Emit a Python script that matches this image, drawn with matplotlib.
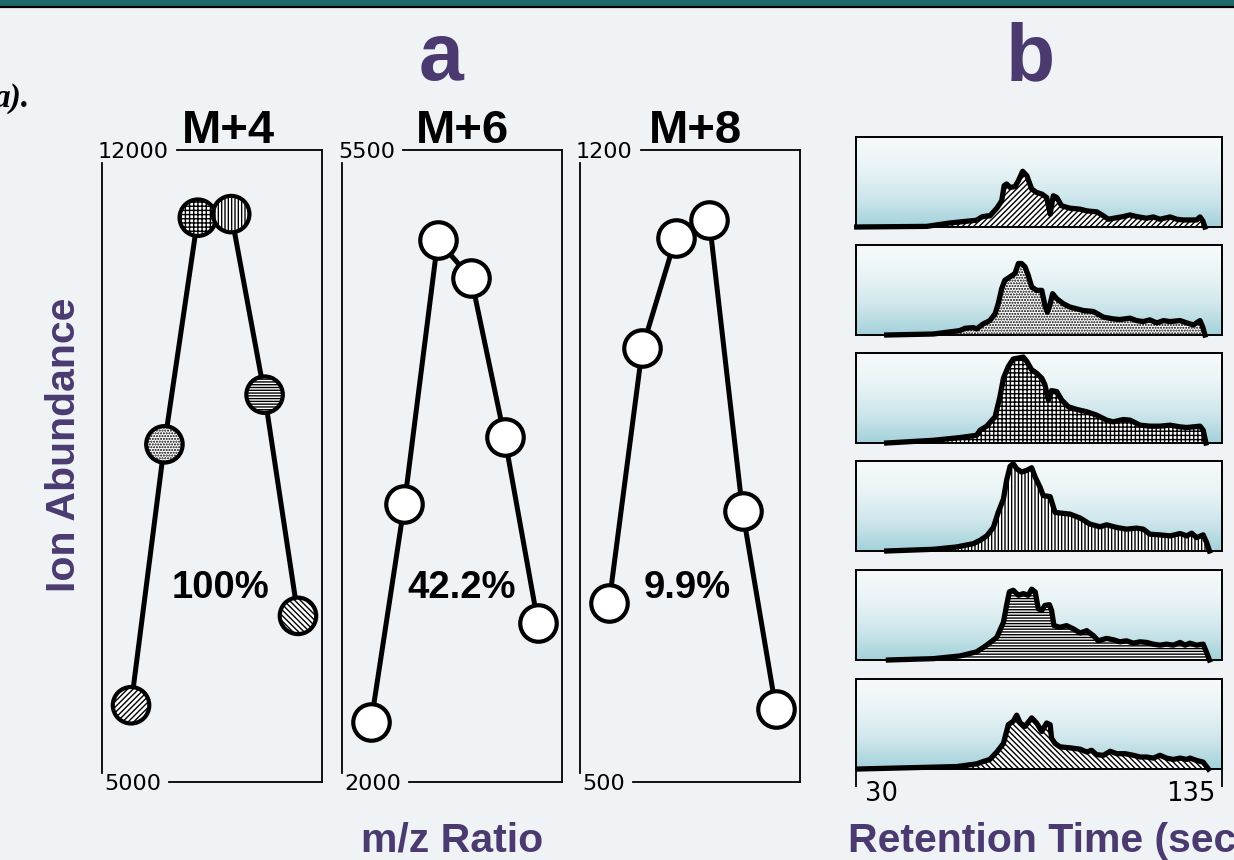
import numpy as np
import matplotlib
matplotlib.use("Agg")
import matplotlib.pyplot as plt
from matplotlib.colors import LinearSegmentedColormap
from matplotlib.lines import Line2D
from matplotlib.patches import Rectangle

# ---------------------------------------------------------------- data
ISOTOPE_LABELS = ["M+4", "M+6", "M+8"]
RELATIVE_LABELS = ["100%", "42.2%", "9.9%"]
MZ_STEP = [0, 1, 2, 3, 4, 5]
M4_ABUNDANCE = [5850, 8740, 11250, 11290, 9290, 6840]
M6_ABUNDANCE = [2330, 3540, 5000, 4790, 3910, 2880]
M8_ABUNDANCE = [698, 981, 1103, 1123, 800, 581]
ABUNDANCE_LIMITS = [(5000, 12000), (2000, 5500), (500, 1200)]

RT_TICKS = [30, 135]

RT_1 = [30.2, 50.3, 57.0, 64.6, 66.1, 67.5, 68.4, 70.4, 71.8, 72.5, 73.2, 74.2, 75.6, 76.6,
        77.8, 79.0, 80.4, 81.8, 83.3, 84.7, 85.7, 86.6, 87.6, 89.0, 91.4, 94.3, 96.2, 99.1,
        101.0, 102.4, 103.9, 106.7, 108.6, 110.5, 113.4, 115.3, 117.2, 120.1, 122.0, 123.9,
        127.7, 128.7, 129.5, 130.1]
AB_1 = [0.0, 0.7, 4.5, 7.5, 11.2, 12.3, 12.3, 20.9, 29.1, 45.9, 47.8, 44.0, 44.8, 51.5,
        61.9, 57.1, 42.2, 38.4, 36.6, 32.8, 14.2, 34.7, 32.8, 23.5, 20.9, 19.8, 17.9, 16.8,
        12.3, 8.6, 9.7, 11.6, 13.4, 11.6, 9.7, 11.2, 8.6, 11.2, 8.6, 7.8,
        7.8, 11.2, 6.7, 0.0]

RT_2 = [38.8, 52.2, 59.8, 61.3, 63.7, 64.6, 66.5, 68.4, 69.9, 70.8, 71.8, 72.7, 74.2, 75.6,
        76.6, 77.5, 78.5, 79.4, 80.4, 81.8, 83.3, 84.2, 84.9, 85.7, 86.4, 87.6, 89.5, 91.4,
        93.3, 95.2, 98.1, 101.0, 103.8, 105.7, 108.6, 110.5, 112.4, 114.3, 116.3, 118.2,
        120.1, 123.0, 124.9, 126.8, 128.7, 129.5, 130.1]
AB_2 = [0.0, 1.1, 4.9, 7.5, 8.2, 6.7, 12.3, 16.0, 23.5, 34.7, 51.5, 60.8, 64.6, 68.3,
        79.5, 79.5, 75.7, 66.4, 53.4, 49.6, 49.6, 32.8, 25.4, 34.7, 45.9, 40.3, 34.7, 31.0,
        29.1, 27.2, 26.1, 19.8, 17.9, 17.2, 18.7, 16.0, 14.9, 16.8, 13.4, 16.0,
        14.9, 16.0, 13.4, 11.2, 16.0, 8.6, 0.0]

RT_3 = [38.8, 52.2, 59.8, 64.6, 65.6, 67.5, 69.9, 71.3, 72.3, 73.7, 75.1, 76.6, 78.0, 79.0,
        80.4, 81.8, 83.3, 84.2, 85.2, 86.1, 87.6, 89.0, 90.9, 93.3, 96.2, 99.0, 101.9, 103.8,
        106.7, 108.6, 111.5, 114.3, 117.2, 120.1, 123.0, 124.9, 128.7, 129.6, 130.4]
AB_3 = [0.0, 3.0, 6.0, 8.6, 14.2, 18.7, 29.1, 51.5, 72.0, 85.1, 93.3, 94.4, 95.5, 90.7,
        81.3, 77.6, 72.0, 64.6, 47.8, 58.2, 57.1, 47.8, 40.3, 37.3, 34.7, 31.0, 25.4, 23.5,
        26.1, 25.4, 19.8, 18.7, 18.7, 19.8, 17.9, 17.2, 18.7, 14.2, 0.0]

RT_4 = [38.8, 52.2, 58.9, 63.7, 65.6, 67.5, 69.4, 70.8, 72.3, 73.2, 74.2, 75.1, 76.1, 77.5,
        79.0, 80.4, 81.4, 82.8, 83.7, 85.7, 87.1, 89.5, 91.4, 94.3, 97.1, 100.0, 101.9, 104.8,
        107.6, 110.5, 112.4, 114.3, 117.2, 120.1, 123.0, 124.9, 126.3, 127.7, 129.6, 130.6,
        131.4]
AB_4 = [0.0, 1.9, 4.5, 8.2, 11.9, 16.8, 26.1, 42.9, 57.8, 78.4, 94.0, 97.0, 91.4, 87.7,
        89.6, 92.5, 82.1, 70.9, 61.6, 60.4, 42.9, 41.8, 41.0, 36.6, 29.9, 26.9, 29.1, 26.1,
        24.3, 25.4, 24.3, 18.7, 17.9, 16.8, 19.4, 16.8, 19.8, 14.9, 17.9, 9.3,
        0.0]

RT_5 = [39.3, 52.2, 59.8, 64.6, 67.5, 70.4, 72.3, 73.2, 74.0, 75.1, 76.6, 78.0, 79.4, 80.4,
        81.4, 82.3, 83.3, 84.2, 85.5, 86.1, 86.8, 88.5, 90.4, 92.4, 94.3, 96.2, 98.1, 99.5,
        101.9, 103.8, 105.7, 107.6, 109.6, 111.5, 113.4, 115.3, 117.2, 119.1, 121.0, 123.0,
        124.4, 125.8, 127.7, 129.6, 130.6, 131.4]
AB_5 = [0.0, 1.5, 4.5, 9.0, 16.5, 25.1, 41.9, 60.7, 75.7, 77.5, 71.9, 73.8, 71.9, 78.7,
        75.7, 56.9, 55.1, 60.7, 61.4, 55.1, 38.2, 36.3, 38.2, 34.5, 30.0, 32.6, 27.0, 21.3,
        24.0, 22.5, 20.2, 21.3, 18.7, 20.2, 19.5, 17.6, 16.5, 17.6, 16.5, 19.5,
        16.5, 18.7, 16.5, 17.6, 8.2, 0.0]

RT_6 = [30.7, 58.9, 64.6, 66.5, 68.4, 70.4, 72.3, 73.7, 75.1, 76.1, 77.1, 78.5, 80.4, 81.8,
        83.3, 84.7, 85.7, 86.1, 87.1, 88.5, 91.4, 94.3, 96.2, 97.6, 99.0, 101.0, 102.9, 104.8,
        107.2, 109.6, 111.5, 113.4, 115.3, 117.2, 119.1, 121.0, 123.0, 124.9, 125.8, 127.7,
        129.6, 131.1]
AB_6 = [0.0, 2.7, 5.7, 8.3, 10.6, 18.9, 28.4, 49.2, 53.0, 59.8, 51.1, 47.3, 56.8, 51.1,
        41.7, 51.1, 49.2, 34.1, 28.4, 24.6, 23.5, 22.0, 18.9, 20.8, 15.9, 15.2, 19.7, 17.0,
        17.0, 15.2, 13.3, 13.3, 12.1, 15.2, 12.1, 10.6, 12.1, 10.6, 12.1, 9.5,
        7.6, 0.0]

# ---------------------------------------------------------------- style
BG = "#eff3f6"
TEAL = "#1e6a68"
PURPLE = "#4a3a70"
HATCHES = ["//////", "......", "++++", "|||||", "------", "\\\\\\\\\\\\"]

plt.rcParams["font.family"] = ["Liberation Sans", "DejaVu Sans"]
plt.rcParams["hatch.linewidth"] = 1.0
plt.rcParams["hatch.color"] = "black"

W, H = 1234, 860
fig = plt.figure(figsize=(W / 100, H / 100), dpi=100, facecolor=BG)


def fx(x):
    return x / W


def fy(y):
    return 1 - y / H


def px_axes(x0, y0, x1, y1):
    return fig.add_axes([fx(x0), fy(y1), (x1 - x0) / W, (y1 - y0) / H])


def fig_line(xs, ys, lw=1.3):
    fig.add_artist(Line2D([fx(x) for x in xs], [fy(y) for y in ys],
                          color="black", lw=lw, transform=fig.transFigure))


# header strip
fig.add_artist(Rectangle((0, fy(6)), 1, 6 / H, transform=fig.transFigure,
                         facecolor=TEAL, edgecolor="none"))
fig_line([0, W], [7, 7], lw=1.6)

# ---------------------------------------------------------------- panel a
A_BOXES = [(102, 322), (342, 562), (580, 800)]
A_TOP, A_BOT = 150, 782
series = [M4_ABUNDANCE, M6_ABUNDANCE, M8_ABUNDANCE]
title_x = [228, 463, 696]
pct_x = [221, 462, 687]

corner_labels = []
for i, (x0, x1) in enumerate(A_BOXES):
    ax = px_axes(x0, A_TOP, x1, A_BOT)
    ax.set_xlim(-0.87, 5.72)
    ax.set_ylim(*ABUNDANCE_LIMITS[i])
    ax.axis("off")
    ax.plot(MZ_STEP, series[i], color="black", lw=3.6, zorder=2)
    if i == 0:
        for xv, yv, h in zip(MZ_STEP, series[i], HATCHES):
            ax.scatter([xv], [yv], s=690, marker="o", facecolor="white",
                       edgecolor="black", linewidths=3.0, hatch=h, zorder=3,
                       clip_on=False)
    else:
        ax.scatter(MZ_STEP, series[i], s=690, marker="o", facecolor="white",
                   edgecolor="black", linewidths=3.0, zorder=3, clip_on=False)

    hi_txt = fig.text(fx(x0 - 4), fy(A_TOP + 8), f"{ABUNDANCE_LIMITS[i][1]}",
                      family="DejaVu Sans", fontsize=16, ha="left", va="baseline")
    lo_txt = fig.text(fx(x0 + 2), fy(A_BOT + 8), f"{ABUNDANCE_LIMITS[i][0]}",
                      family="DejaVu Sans", fontsize=16, ha="left", va="baseline")
    corner_labels.append((x0, x1, hi_txt, lo_txt))

    fig.text(fx(title_x[i]), fy(143), ISOTOPE_LABELS[i], fontsize=34,
             fontweight="bold", ha="center", va="baseline")
    fig.text(fx(pct_x[i]), fy(598), RELATIVE_LABELS[i], fontsize=27.5,
             fontweight="bold", ha="center", va="baseline")

# frames drawn around the corner value labels
fig.canvas.draw()
renderer = fig.canvas.get_renderer()
for x0, x1, hi_txt, lo_txt in corner_labels:
    hi_end = hi_txt.get_window_extent(renderer).x1 + 8
    lo_end = lo_txt.get_window_extent(renderer).x1 + 8
    fig_line([x0, x0], [A_TOP + 13, A_BOT - 9])
    fig_line([hi_end, x1], [A_TOP, A_TOP])
    fig_line([x1, x1], [A_TOP, A_BOT])
    fig_line([lo_end, x1], [A_BOT, A_BOT])

fig.text(fx(441), fy(80), "a", fontsize=58, fontweight="bold", color=PURPLE,
         ha="center", va="baseline")
fig.text(fx(75), fy(445), "Ion Abundance", fontsize=29.5, fontweight="bold",
         color=PURPLE, rotation=90, rotation_mode="anchor", ha="center", va="baseline")
fig.text(fx(452), fy(852), "m/z Ratio", fontsize=29.5, fontweight="bold",
         color=PURPLE, ha="center", va="baseline")
fig.text(fx(-6), fy(107), "a).", family=["Liberation Serif", "DejaVu Serif"],
         fontsize=24, fontweight="bold", style="italic", ha="left", va="baseline")

# ---------------------------------------------------------------- panel b
B_X0, B_X1 = 856, 1222
B_TOPS = [137, 245, 353, 461, 570, 679]
B_H = 90
traces = [(RT_1, AB_1), (RT_2, AB_2), (RT_3, AB_3),
          (RT_4, AB_4), (RT_5, AB_5), (RT_6, AB_6)]
grad_cmap = LinearSegmentedColormap.from_list(
    "wash", ["#a3d1da", "#cfe7ec", "#eaf4f6", "#f7fafb"])
grad = np.linspace(0, 1, 256).reshape(-1, 1)

for k, (top, (rt, ab)) in enumerate(zip(B_TOPS, traces)):
    ax = px_axes(B_X0, top, B_X1, top + B_H)
    ax.imshow(grad, extent=[0, 1, 0, 1], transform=ax.transAxes, origin="lower",
              aspect="auto", cmap=grad_cmap, zorder=0, interpolation="bicubic")
    ax.fill_between(rt, ab, 0, facecolor="white", edgecolor="black", lw=0,
                    hatch=HATCHES[k], zorder=1)
    ax.plot(rt, ab, color="black", lw=3.8, zorder=2, clip_on=False,
            solid_joinstyle="round")
    ax.set_xlim(RT_TICKS[0], RT_TICKS[1])
    ax.set_ylim(0, 100)
    ax.set_yticks([])
    for sp in ax.spines.values():
        sp.set_linewidth(1.4)
        sp.set_zorder(3)
    if k == len(traces) - 1:
        ax.set_xticks(RT_TICKS)
        ax.tick_params(axis="x", direction="out", length=13, width=1.3,
                       labelbottom=False)
        ax.annotate(f"{RT_TICKS[0]}", xy=(RT_TICKS[0], 0),
                    xycoords=("data", "axes fraction"), xytext=(9, -32),
                    textcoords="offset pixels", ha="left", va="baseline",
                    family="DejaVu Sans", fontsize=18.5)
        ax.annotate(f"{RT_TICKS[1]}", xy=(RT_TICKS[1], 0),
                    xycoords=("data", "axes fraction"), xytext=(-6, -32),
                    textcoords="offset pixels", ha="right", va="baseline",
                    family="DejaVu Sans", fontsize=18.5)
    else:
        ax.set_xticks([])

fig.text(fx(1030), fy(80), "b", fontsize=58, fontweight="bold", color=PURPLE,
         ha="center", va="baseline")
fig.text(fx(848), fy(852), "Retention Time (sec)", fontsize=29.5, fontweight="bold",
         color=PURPLE, ha="left", va="baseline")

fig.savefig("out.png", dpi=100, facecolor=BG)
